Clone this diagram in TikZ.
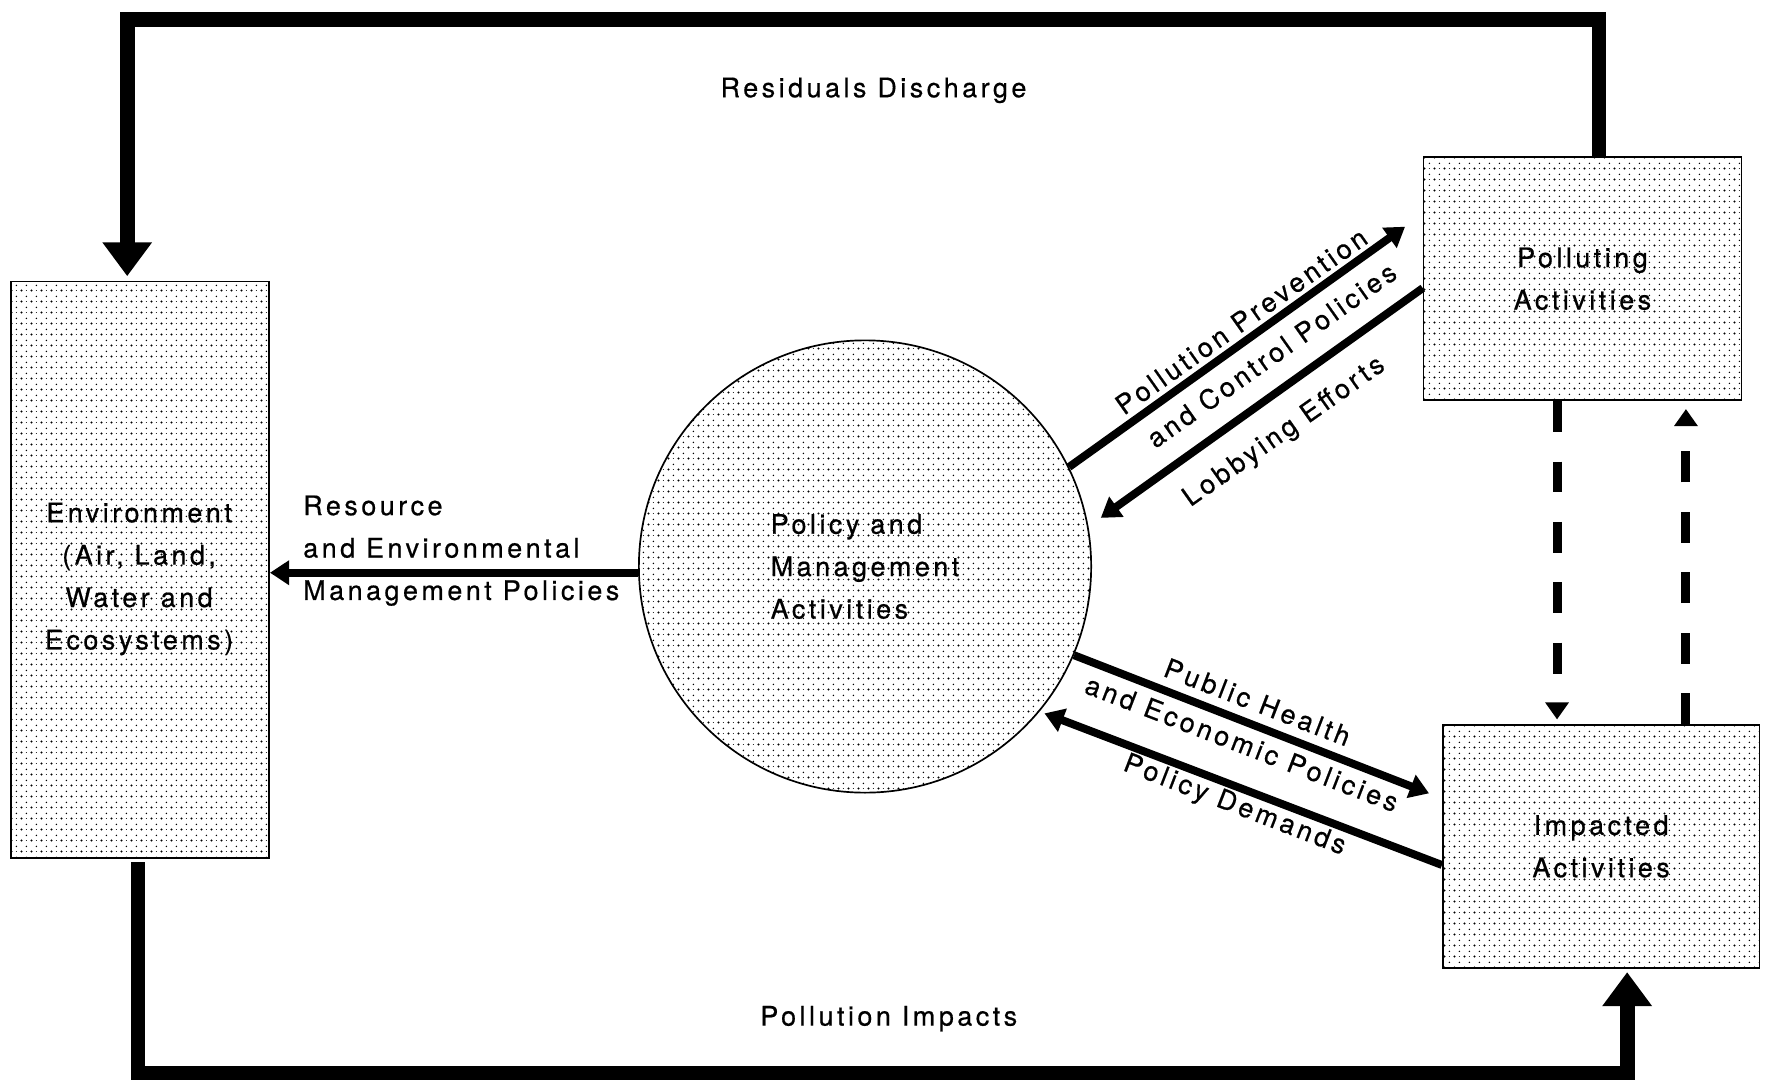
\documentclass[tikz,border=0pt]{standalone}
\usepackage{fontspec}
\setmainfont{TeX Gyre Heros}[LetterSpace=13, FakeBold=0.6]
\usetikzlibrary{arrows.meta,patterns.meta,calc}

\tikzdeclarepattern{
  name=stipple,
  type=uncolored,
  bounding box={(0pt,0pt) and (8.8pt,9.3pt)},
  tile size={(8.8pt,9.3pt)},
  code={\pgfpathcircle{\pgfpoint{2.2pt}{2.3pt}}{1.05pt}\pgfusepath{fill}
        \pgfpathcircle{\pgfpoint{6.6pt}{2.3pt}}{0.45pt}\pgfusepath{fill}
        \pgfpathcircle{\pgfpoint{6.6pt}{7pt}}{0.7pt}\pgfusepath{fill}}
}

\begin{document}
\begin{tikzpicture}[x=1pt,y=1pt,
  font=\fontsize{23.8}{37.5}\selectfont,
  box/.style={draw, line width=1.5pt, pattern=stipple, pattern color=black, inner sep=0pt, align=center},
  lbl/.style={inner sep=0pt, anchor=base},
  loopline/.style={line width=13pt, line join=miter, -{Triangle[length=30pt,width=42pt]}},
  flow/.style={line width=7pt, -{Triangle[length=17pt,width=21pt]}},
  dasharrow/.style={line width=8pt, dash pattern=on 27.4pt off 26pt, -{Triangle[length=15pt,width=20pt]}}]

\useasboundingbox (0,0) rectangle (1568,-960);

% nodes
\node[box, minimum width=228pt, minimum height=510pt] (env) at (124,-504) {};
\node[inner sep=0pt, align=center] (envtext) at (123,-512) {Environment\\(Air, Land,\\Water and\\Ecosystems)};
\node[box, circle, minimum size=400pt, align=left] (pm) at (765,-501) {Policy and\\Management\\Activities};
\node[box, minimum width=281pt, minimum height=215pt] (pol) at (1399.5,-246.5) {Polluting\\Activities};
\node[box, minimum width=280pt, minimum height=215pt] (imp) at (1416,-748.5) {Impacted\\Activities};

% coordinates
\coordinate (tr) at (1414,-17);
\coordinate (tl) at (112.5,-17);
\coordinate (bl) at (122,-949);
\coordinate (br) at (1439,-949);
\coordinate (dl) at (1377,0);
\coordinate (dr) at (1491,0);
\coordinate (ppTip) at (1242.6,-200.5);
\coordinate (lobTip) at (973.5,-458);
\coordinate (phTip) at (1263.8,-701.6);
\coordinate (pdTip) at (923.7,-630.9);

% big loops
\draw[loopline] (pol.north -| tr) -- (tr) -- (tl) -- ($(env.north -| tl)+(0,4)$);
\draw[loopline] ($(env.south -| bl)+(0,-3)$) -- (bl) -- (br) -- ($(imp.south -| br)+(0,-3)$);

% flows
\draw[flow] ($(pm.west)+(0,-5.5)$) -- ($(env.east)+(0,-2.5)$);
\draw[flow] (pm.26.4) -- (ppTip);
\draw[flow] ($(pol.west)+(0,-8.3)$) -- (lobTip);
\draw[flow] (pm.-23) -- (phTip);
\draw[flow] ($(imp.west)+(0,-16.5)$) -- (pdTip);

% dashed
\draw[dasharrow] (pol.south -| dl) -- ($(imp.north -| dl)+(0,4)$);
\draw[dasharrow] (imp.north -| dr) -- ($(pol.south -| dr)+(0,-7)$);

% labels
\node[lbl] (lrd) at (772.5,-86) {Residuals Discharge};
\node[lbl] (lpi) at (786,-907) {Pollution Impacts};
\node[inner sep=0pt, align=left, anchor=west] (lres) at (268,-487) {Resource\\and Environmental\\Management Policies};
\node[lbl, rotate=35.27] (lpp) at (1102.6,-291.0) {Pollution Prevention};
\node[lbl, rotate=35.27] (lcp) at (1129.4,-321.0) {and Control Policies};
\node[lbl, rotate=35.27] (lle) at (1139.5,-387.3) {Lobbying Efforts};
\node[lbl, rotate=-21.1] (lph) at (1109,-628.9) {Public Health};
\node[lbl, rotate=-21.1] (lep) at (1095.3,-665.4) {and Economic Policies};
\node[lbl, rotate=-21.1] (lpd) at (1089.5,-718.5) {Policy Demands};
\end{tikzpicture}
\end{document}
